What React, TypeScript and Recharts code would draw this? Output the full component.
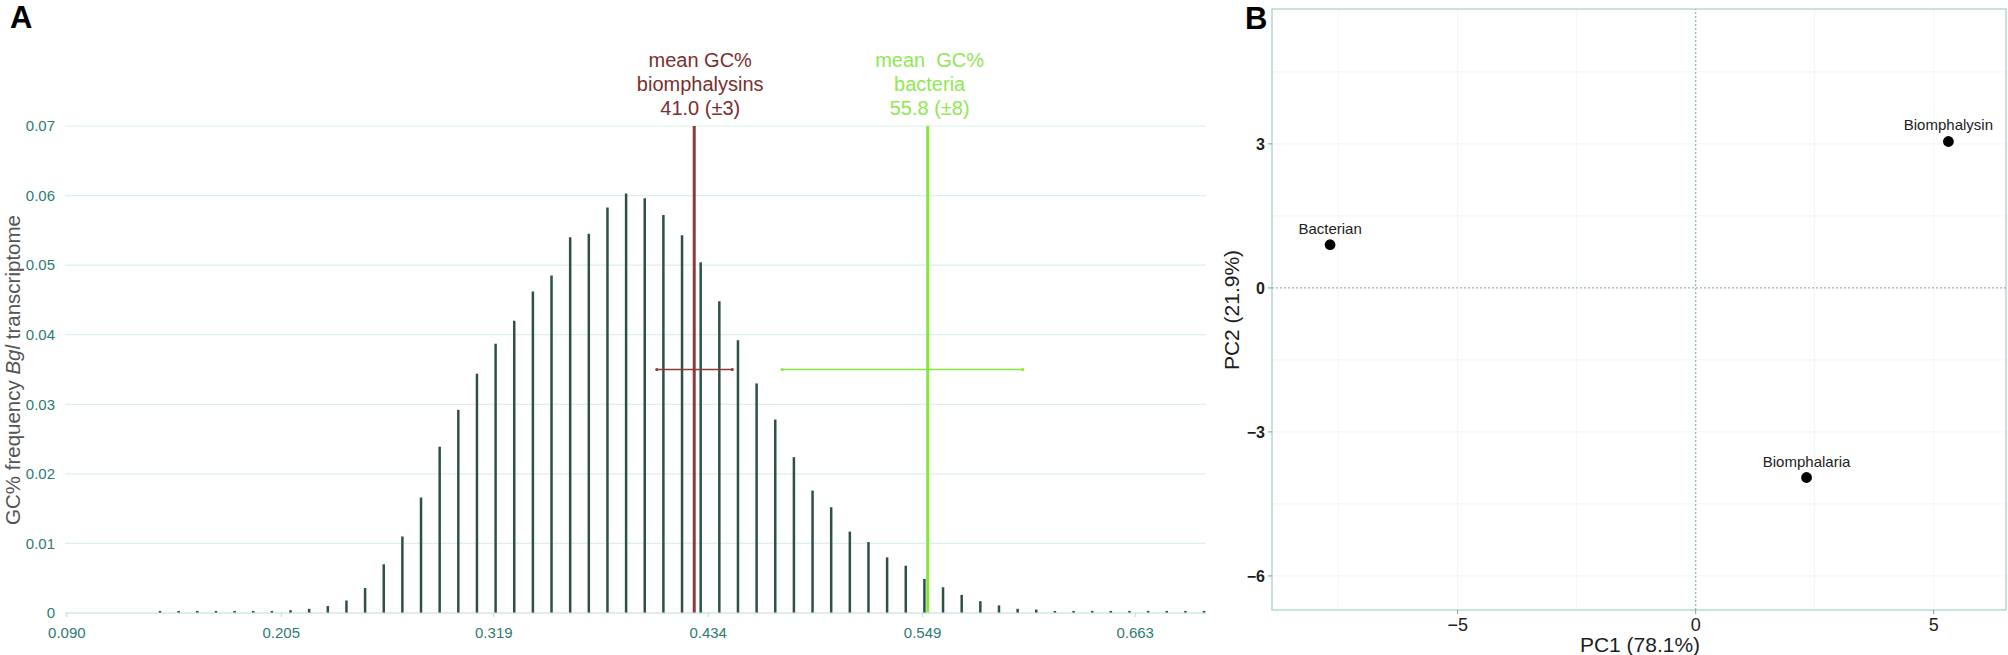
import React from "react";
import {
  Bar,
  CartesianGrid,
  ComposedChart,
  ReferenceArea,
  ReferenceDot,
  ReferenceLine,
  Scatter,
  ScatterChart,
  XAxis,
  YAxis,
} from "recharts";

const FONT = '"Liberation Sans", Arial, Helvetica, sans-serif';

// Panel A: GC% distribution of the Bgl transcriptome (one bar per 1% GC)
const GC_BINS = [
  0.14, 0.15, 0.16, 0.17, 0.18, 0.19, 0.2, 0.21, 0.22, 0.23, 0.24, 0.25, 0.26, 0.27, 0.28, 0.29,
  0.3, 0.31, 0.32, 0.33, 0.34, 0.35, 0.36, 0.37, 0.38, 0.39, 0.4, 0.41, 0.42, 0.43, 0.44, 0.45,
  0.46, 0.47, 0.48, 0.49, 0.5, 0.51, 0.52, 0.53, 0.54, 0.55, 0.56, 0.57, 0.58, 0.59, 0.6, 0.61,
  0.62, 0.63, 0.64, 0.65, 0.66, 0.67, 0.68, 0.69, 0.7,
];
const GC_FREQ = [
  0.0003, 0.0003, 0.0003, 0.0003, 0.0003, 0.0003, 0.0003, 0.0004, 0.0006, 0.001, 0.0018, 0.0036,
  0.007, 0.011, 0.0166, 0.0239, 0.0292, 0.0344, 0.0387, 0.042, 0.0462, 0.0485, 0.054, 0.0545,
  0.0583, 0.0603, 0.0596, 0.0572, 0.0543, 0.0504, 0.0448, 0.0392, 0.033, 0.0278, 0.0224, 0.0176,
  0.0152, 0.0117, 0.0102, 0.008, 0.0068, 0.0049, 0.0037, 0.0026, 0.0017, 0.0011, 0.0006, 0.0005,
  0.0003, 0.0003, 0.0003, 0.0003, 0.0003, 0.0003, 0.0003, 0.0003, 0.0003,
];
const GC_TICKS = [0.09, 0.205, 0.319, 0.434, 0.549, 0.663];
const FREQ_TICKS = [0, 0.01, 0.02, 0.03, 0.04, 0.05, 0.06, 0.07];

// mean GC% markers: biomphalysins, bacteria
const MEAN_X = [0.4265, 0.5517];
const MEAN_TEXT = [
  ["mean GC%", "biomphalysins", "41.0 (±3)"],
  ["mean\u00a0 GC%", "bacteria", "55.8 (±8)"],
];
const SPREAD_LOW = [0.4064, 0.4737];
const SPREAD_HIGH = [0.4469, 0.6027];
const SPREAD_Y = 0.035;
const MEAN_COLORS = ["#8c3a3a", "#86e83c"];
const MEAN_TEXT_COLORS = ["#7a2f2f", "#8fe853"];
const MEAN_LABEL_DX = [6, 2];

// Panel B: PCA
const PCA_NAMES = ["Bacterian", "Biomphalysin", "Biomphalaria"];
const PC1 = [-7.68, 5.31, 2.33];
const PC2 = [0.9, 3.05, -3.95];
const PC1_TICKS = [-5, 0, 5];
const PC2_TICKS = [-6, -3, 0, 3];
const PC1_GRID = [-7.5, -5, -2.5, 2.5, 5];
const PC2_GRID = [-6, -4.5, -3, -1.5, 1.5, 3, 4.5];
const PC1_DOMAIN: [number, number] = [-8.9, 6.52];
const PC2_DOMAIN: [number, number] = [-6.71, 5.81];

const histData = GC_BINS.map((gc, i) => ({ gc, freq: GC_FREQ[i] }));
const pcaData = PCA_NAMES.map((name, i) => ({ name, pc1: PC1[i], pc2: PC2[i] }));

const minus = (v: number) => (v < 0 ? `\u2212${-v}` : `${v}`);

function meanLabel(i: number) {
  return (props: any) => {
    const vb = props.viewBox || { x: 0, y: 0 };
    const cx = vb.x + MEAN_LABEL_DX[i];
    const top = vb.y;
    return (
      <text textAnchor="middle" fontSize={20} fill={MEAN_TEXT_COLORS[i]} style={{ whiteSpace: "pre" }}>
        {MEAN_TEXT[i].map((t, k) => (
          <tspan key={k} x={cx} y={top - 59 + k * 24}>
            {t}
          </tspan>
        ))}
      </text>
    );
  };
}

function PcaPoint(props: any) {
  const { cx, cy, payload } = props;
  if (cx == null || cy == null) return null;
  return (
    <g>
      <circle cx={cx} cy={cy} r={5.4} fill="#000" />
      <text x={cx} y={cy - 11} textAnchor="middle" fontSize={15} fill="#222">
        {payload.name}
      </text>
    </g>
  );
}

function GcPanel() {
  return (
    <ComposedChart width={1240} height={655} data={histData} margin={{ top: 126, right: 34, bottom: 12, left: 5 }}>
      <CartesianGrid vertical={false} stroke="#dcefea" strokeWidth={1.2} />
      <XAxis
        dataKey="gc"
        type="number"
        domain={[0.089, 0.701]}
        ticks={GC_TICKS}
        tickFormatter={(v: number) => v.toFixed(3)}
        height={30}
        axisLine={{ stroke: "#cbe6df" }}
        tickLine={{ stroke: "#b9dcd4" }}
        tickSize={4}
        tickMargin={10}
        tick={{ fontSize: 15, fill: "#2e7b72" }}
      />
      <YAxis
        type="number"
        domain={[0, 0.07]}
        ticks={FREQ_TICKS}
        tickFormatter={(v: number) => (v === 0 ? "0" : v.toFixed(2))}
        width={60}
        axisLine={false}
        tickLine={false}
        tickSize={0}
        tickMargin={10}
        tick={{ fontSize: 15, fill: "#2e7b72" }}
      />
      <Bar dataKey="freq" fill="#2d5049" barSize={2.5} isAnimationActive={false} />
      {MEAN_X.map((x, i) => (
        <ReferenceLine
          key={`mean-${i}`}
          x={x}
          stroke={MEAN_COLORS[i]}
          strokeWidth={3}
          label={meanLabel(i)}
        />
      ))}
      {MEAN_X.map((_, i) => (
        <ReferenceLine
          key={`spread-${i}`}
          segment={[
            { x: SPREAD_LOW[i], y: SPREAD_Y },
            { x: SPREAD_HIGH[i], y: SPREAD_Y },
          ]}
          stroke={MEAN_COLORS[i]}
          strokeWidth={1.5}
        />
      ))}
      {MEAN_X.map((_, i) => (
        <ReferenceDot key={`lo-${i}`} x={SPREAD_LOW[i]} y={SPREAD_Y} r={1.6} fill={MEAN_COLORS[i]} stroke="none" />
      ))}
      {MEAN_X.map((_, i) => (
        <ReferenceDot key={`hi-${i}`} x={SPREAD_HIGH[i]} y={SPREAD_Y} r={1.6} fill={MEAN_COLORS[i]} stroke="none" />
      ))}
    </ComposedChart>
  );
}

function PcaPanel() {
  return (
    <ScatterChart width={768} height={655} margin={{ top: 9, right: 2, bottom: 0, left: 0 }}>
      <CartesianGrid stroke="#f1f7f5" horizontalValues={PC2_GRID} verticalValues={PC1_GRID} />
      <XAxis
        type="number"
        dataKey="pc1"
        domain={PC1_DOMAIN}
        ticks={PC1_TICKS}
        tickFormatter={minus}
        height={45}
        axisLine={false}
        tickLine={{ stroke: "#8d9b98" }}
        tickSize={4}
        tickMargin={4}
        tick={{ fontSize: 18, fill: "#1e1e1e" }}
      />
      <YAxis
        type="number"
        dataKey="pc2"
        domain={PC2_DOMAIN}
        ticks={PC2_TICKS}
        tickFormatter={minus}
        width={32}
        axisLine={false}
        tickLine={{ stroke: "#8d9b98" }}
        tickSize={4}
        tickMargin={3}
        tick={{ fontSize: 16, fill: "#1e1e1e", fontWeight: 700 }}
      />
      <ReferenceArea
        x1={PC1_DOMAIN[0]}
        x2={PC1_DOMAIN[1]}
        y1={PC2_DOMAIN[0]}
        y2={PC2_DOMAIN[1]}
        fill="none"
        stroke="#b4dbd2"
        strokeWidth={1.6}
      />
      <ReferenceLine x={0} stroke="#93b9b1" strokeDasharray="2 2" strokeWidth={1.3} />
      <ReferenceLine y={0} stroke="#93b9b1" strokeDasharray="2 2" strokeWidth={1.3} />
      <Scatter data={pcaData} shape={PcaPoint} isAnimationActive={false} />
    </ScatterChart>
  );
}

export default function App() {
  return (
    <div
      style={{
        position: "absolute",
        left: 0,
        top: 0,
        width: 2008,
        height: 655,
        background: "#fff",
        fontFamily: FONT,
        overflow: "hidden",
      }}
    >
      <div style={{ position: "absolute", left: 0, top: 0 }}>
        <GcPanel />
      </div>
      <div style={{ position: "absolute", left: 1240, top: 0 }}>
        <PcaPanel />
      </div>
      <svg
        width={2008}
        height={655}
        style={{ position: "absolute", left: 0, top: 0, pointerEvents: "none" }}
      >
        <text x={10} y={28} fontSize={31} fontWeight={700} fill="#000">
          A
        </text>
        <text x={1245} y={29} fontSize={31} fontWeight={700} fill="#000">
          B
        </text>
        <text transform="translate(20,370) rotate(-90)" textAnchor="middle" fontSize={20.5} fill="#555">
          GC% frequency <tspan fontStyle="italic">Bgl</tspan> transcriptome
        </text>
        <text transform="translate(1239,310) rotate(-90)" textAnchor="middle" fontSize={21} fill="#1e1e1e">
          PC2 (21.9%)
        </text>
        <text x={1640} y={652} textAnchor="middle" fontSize={21} fill="#1e1e1e">
          PC1 (78.1%)
        </text>
      </svg>
    </div>
  );
}
